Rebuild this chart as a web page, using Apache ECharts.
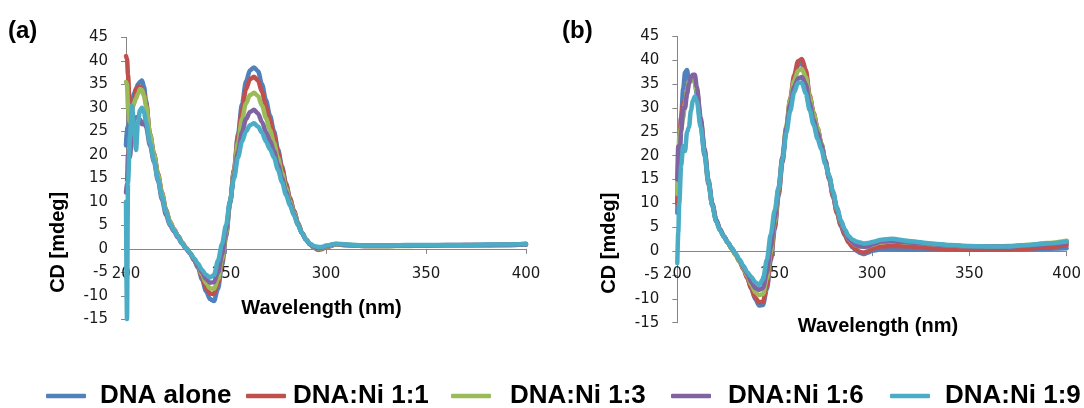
<!DOCTYPE html>
<html>
<head>
<meta charset="utf-8">
<script src="https://cdn.jsdelivr.net/npm/echarts@6/dist/echarts.min.js"></script>
<style>
  html, body { margin: 0; padding: 0; background: #ffffff; }
  #chart { width: 1084px; height: 408px; }
</style>
</head>
<body>
<div id="chart"></div>
<script>
// Wavelength grid shared by both CD spectra (nm)
const wavelengths = [
  200, 200.5, 201, 202, 203, 204, 205, 206, 207, 208, 209, 210,
  212, 214, 216, 218, 220, 222, 224, 226, 228, 230, 232, 234, 236, 238, 240,
  242, 244, 246, 248, 250, 252, 254, 256, 258, 260, 262, 264, 266, 268, 270,
  272, 274, 276, 278, 280, 282, 284, 286, 288, 290, 292, 294, 296, 298, 300,
  305, 310, 320, 330, 340, 350, 360, 370, 380, 390, 400
];

const seriesNames = ['DNA alone', 'DNA:Ni 1:1', 'DNA:Ni 1:3', 'DNA:Ni 1:6', 'DNA:Ni 1:9'];
const seriesColors = ['#4F81BD', '#C0504D', '#9BBB59', '#8064A2', '#4BACC6'];

// Panel (a) CD signal, mdeg
const a_dnaAlone = [
  22, 26, 24, 28, 31, 33, 34, 35, 35.5, 35.8, 34.5, 31.5,
  24, 20, 15.5, 11.5, 8, 5.5, 4, 2.7, 1.3, 0.2, -0.9, -2.4, -4, -6.5, -9,
  -10.7, -11.1, -8.5, -3.5, 2.5, 9.5, 16.8, 24.3, 30.8, 35.6, 38, 38.6, 37.8, 35, 31.6,
  28.3, 25, 21.2, 17.5, 13.9, 10.8, 8.1, 5.5, 3.4, 2, 0.9, 0.2, -0.2, -0.1, 0.4,
  0.9, 0.8, 0.6, 0.6, 0.7, 0.7, 0.7, 0.7, 0.8, 0.8, 0.9
];
const a_ni11 = [
  41, 40.5, 37, 28, 30, 31, 34, 34.5, 34.5, 34, 33, 31,
  24.5, 20.3, 16, 12, 8.3, 5.8, 4.2, 2.8, 1.4, 0.2, -0.9, -2.3, -3.8, -6, -8.3,
  -9.5, -9.6, -7.3, -2.8, 3, 9.8, 16.8, 23.8, 29.6, 34, 36.1, 36.6, 35.8, 33.4, 30.2,
  27.3, 24.2, 20.6, 17.1, 13.7, 10.6, 8, 5.5, 3.4, 2, 1, 0.3, -0.1, 0, 0.4,
  0.9, 0.8, 0.6, 0.6, 0.7, 0.7, 0.7, 0.8, 0.8, 0.9, 1.1
];
const a_ni13 = [
  35.5, 35, 30, 27, 29.5, 31, 32, 33, 34, 33.8, 32.5, 30.5,
  24.3, 20, 15.7, 11.7, 8.1, 5.7, 4.1, 2.7, 1.3, 0.2, -0.9, -2.2, -3.6, -5.5, -7.3,
  -8.4, -8.5, -6.5, -2.2, 3.3, 9.8, 16.4, 22.6, 27.6, 30.9, 32.7, 33.2, 32.5, 30.5, 27.8,
  25.2, 22.5, 19.3, 16.1, 12.9, 10.1, 7.7, 5.3, 3.3, 2, 1, 0.3, 0, 0.1, 0.5,
  0.9, 0.8, 0.6, 0.6, 0.6, 0.7, 0.7, 0.7, 0.7, 0.8, 0.9
];
const a_ni16 = [
  12, 14, 20, 19.5, 25, 27.5, 28, 28, 27.5, 26.5, 27, 26,
  22, 18.5, 14.5, 10.5, 7.2, 5, 3.7, 2.4, 1.1, 0, -1, -2.2, -3.5, -5, -6.4,
  -7.2, -7.1, -5, -1.2, 4, 10, 15.6, 20.6, 24.8, 27.6, 29.1, 29.6, 28.8, 27, 24.8,
  23, 20.8, 17.9, 15, 12.1, 9.6, 7.3, 5.1, 3.3, 1.9, 1, 0.4, 0.1, 0.2, 0.6,
  1, 0.8, 0.7, 0.7, 0.7, 0.7, 0.8, 0.8, 0.8, 0.8, 0.9
];
const a_ni19 = [
  10, -15, 14, 24, 30.5, 26, 21, 27, 29.5, 30, 29, 27,
  22.5, 18.8, 14.8, 11, 7.8, 5.3, 3.9, 2.6, 1.2, 0.1, -0.9, -2, -3.2, -4.5, -5.5,
  -6.1, -5.6, -2.5, 1, 5, 10.2, 15, 19.4, 22.8, 25, 26.3, 26.7, 26, 24.7, 22.8,
  21.2, 19.4, 16.8, 14.2, 11.5, 9.2, 7.1, 5, 3.3, 2, 1.1, 0.6, 0.4, 0.4, 0.7,
  1.1, 0.9, 0.7, 0.7, 0.8, 0.8, 0.8, 0.8, 0.9, 0.9, 1
];

// Panel (b) CD signal, mdeg
const b_dnaAlone = [
  8, 14, 20, 28, 34, 37.5, 38, 35.5, 36, 36.3, 35.5, 33,
  26.5, 20, 14, 9.5, 6.3, 4.4, 3, 1.8, 0.6, -0.7, -2.1, -3.7, -5.6, -7.9, -10,
  -11.4, -11.3, -8, -2, 4.5, 11.5, 18.5, 25.5, 31.5, 36.2, 39, 39.4, 37.2, 32.3, 28.8,
  25.7, 22.4, 18.8, 15.1, 11.4, 8, 5.3, 3.3, 1.8, 0.8, 0.1, -0.4, -0.6, -0.3, 0.1,
  0.4, 0.4, 0.3, 0.3, 0.3, 0.3, 0.3, 0.3, 0.4, 0.5, 0.6
];
const b_ni11 = [
  10, 16, 22, 28, 31, 31.5, 33.5, 35.5, 36.3, 36.5, 36, 34,
  27.5, 21, 14.5, 9.7, 6.4, 4.4, 3, 1.7, 0.5, -0.8, -2.2, -3.8, -5.7, -7.8, -9.7,
  -10.7, -10.6, -7.3, -1.5, 5, 12, 19, 26, 32, 36.8, 39.8, 40.3, 38, 32.7, 29,
  25.8, 22.5, 19, 15.3, 11.6, 8.1, 5.5, 3.5, 1.9, 0.9, 0.3, -0.2, -0.3, 0, 0.5,
  1, 1.1, 1, 0.6, 0.4, 0.3, 0.3, 0.4, 0.5, 0.8, 1.3
];
const b_ni13 = [
  12, 18, 24, 26, 28, 31, 33.5, 35.5, 36.2, 36, 35.2, 33.5,
  27.5, 21, 14.5, 9.6, 6.3, 4.4, 3, 1.7, 0.4, -0.9, -2.2, -3.6, -5.2, -7, -8.6,
  -9.2, -9, -5.8, -0.3, 6, 12.8, 19.8, 26.3, 31.8, 35.7, 37.8, 38.2, 36.5, 32.3, 28.8,
  25.8, 22.6, 19.1, 15.6, 12.1, 8.8, 6.1, 4.1, 2.6, 1.7, 1.2, 1, 0.9, 1, 1.3,
  1.9, 2, 1.8, 1.5, 1.2, 1, 1, 1.1, 1.3, 1.7, 2.2
];
const b_ni16 = [
  15, 22, 18, 25, 30, 30, 33, 35, 36.5, 37, 37, 34.5,
  28, 21.5, 15, 10, 6.6, 4.6, 3.1, 1.8, 0.6, -0.6, -1.9, -3.3, -4.8, -6.5, -7.7,
  -8.1, -7.7, -4.5, 0.8, 6.8, 13.3, 19.8, 25.8, 30.8, 34.4, 36.2, 36.5, 35, 31, 27.5,
  24.8, 22.2, 19, 15.6, 12.2, 9, 6.3, 4.2, 2.7, 1.8, 1.2, 1, 0.9, 1, 1.4,
  2, 2.1, 1.8, 1.5, 1.2, 1, 1, 1, 1.2, 1.5, 1.8
];
const b_ni19 = [
  -2.5, 4, 10, 18, 22, 21, 25, 26, 29.5, 31.5, 32.4, 31.5,
  26, 20.5, 14.7, 9.5, 6.2, 4.3, 3, 1.8, 0.6, -0.6, -1.8, -3.1, -4.4, -5.4, -6.5,
  -7.1, -5.9, -1.8, 3.5, 8.5, 13.3, 19.2, 24.8, 29.4, 33.3, 35.3, 35.3, 33, 29.6, 26.5,
  23.6, 21.3, 18.3, 15.8, 12.5, 9.1, 6.5, 4.6, 3.2, 2.4, 2, 1.8, 1.6, 1.7, 1.9,
  2.4, 2.6, 2.1, 1.6, 1.3, 1.1, 1, 1, 1.3, 1.6, 2
];

const panelA = [a_dnaAlone, a_ni11, a_ni13, a_ni16, a_ni19];
const panelB = [b_dnaAlone, b_ni11, b_ni13, b_ni16, b_ni19];

const xTicks = { min: 200, max: 400, interval: 50 };
const yTicks = { min: -15, max: 45, interval: 5 };

const axisGrey = '#868686';
const tickFont = 'DejaVu Sans';
const boldFont = 'Liberation Sans';

const grids = [
  { left: 126, top: 37.3, width: 400, height: 282 },
  { left: 677.3, top: 36.5, width: 390.7, height: 286.2 }
];

function pairs(values) {
  return wavelengths.map((w, i) => [w, values[i]]);
}

// Lift the wavelength axis from the grid bottom up to the CD = 0 line
function zeroLift(grid) {
  return -grid.height * (0 - yTicks.min) / (yTicks.max - yTicks.min);
}

function makeX(gridIndex, labelMargin, nameGap, namePad) {
  return {
    type: 'value', gridIndex: gridIndex, position: 'bottom',
    offset: zeroLift(grids[gridIndex]),
    min: xTicks.min, max: xTicks.max, interval: xTicks.interval,
    axisLine: { show: true, onZero: false, lineStyle: { color: axisGrey, width: 1 } },
    axisTick: { show: true, length: 5, inside: false, lineStyle: { color: axisGrey } },
    axisLabel: { margin: labelMargin, fontSize: 15, fontFamily: tickFont, color: '#1a1a1a',
                 showMinLabel: true, showMaxLabel: true },
    splitLine: { show: false },
    name: 'Wavelength (nm)', nameLocation: 'middle', nameGap: nameGap,
    nameTextStyle: { fontFamily: boldFont, fontWeight: 'bold', fontSize: 20, color: '#000',
                     lineHeight: 22, padding: namePad }
  };
}

function makeY(gridIndex, nameGap, namePad) {
  return {
    type: 'value', gridIndex: gridIndex,
    min: yTicks.min, max: yTicks.max, interval: yTicks.interval,
    axisLine: { show: true, lineStyle: { color: axisGrey, width: 1 } },
    axisTick: { show: true, length: 5, inside: false, lineStyle: { color: axisGrey } },
    axisLabel: { margin: 18, fontSize: 15, fontFamily: tickFont, color: '#1a1a1a' },
    splitLine: { show: false },
    name: 'CD [mdeg]', nameLocation: 'middle', nameRotate: 90, nameGap: nameGap,
    nameTextStyle: { fontFamily: boldFont, fontWeight: 'bold', fontSize: 20, color: '#000',
                     lineHeight: 22, padding: namePad }
  };
}

function makeSeries(panel, axisIndex) {
  return panel.map((values, i) => ({
    type: 'line', name: seriesNames[i],
    xAxisIndex: axisIndex, yAxisIndex: axisIndex,
    data: pairs(values),
    showSymbol: false, symbol: 'none',
    smooth: 0.3, smoothMonotone: 'x',
    color: seriesColors[i],
    lineStyle: { width: 4.5, color: seriesColors[i], cap: 'round', join: 'round' },
    z: 2 + i
  }));
}

// Legend entries laid out one by one along the bottom row
const legendLeft = [46, 246, 451, 671, 890];
const legendTextPad = [9, 2, 14, 12, 10];
const legends = seriesNames.map((n, i) => ({
  data: [n], left: legendLeft[i], top: 383, orient: 'horizontal',
  padding: 0, icon: 'roundRect', itemWidth: 40, itemHeight: 4.5,
  selectedMode: false,
  textStyle: { fontFamily: boldFont, fontWeight: 'bold', fontSize: 26, color: '#000',
               lineHeight: 26, padding: [0, 0, 0, legendTextPad[i]] }
}));

const chart = echarts.init(document.getElementById('chart'), null, { renderer: 'canvas' });
chart.setOption({
  animation: false,
  backgroundColor: '#ffffff',
  grid: grids,
  xAxis: [makeX(0, 18, 49, [0, 9, 0, 0]), makeX(1, 15, 64, [0, 0, 0, 12])],
  yAxis: [makeY(0, 57, [0, 128, 0, 0]), makeY(1, 57, [0, 127, 0, 0])],
  legend: legends,
  graphic: [
    { type: 'text', left: 8, top: 19, style: { text: '(a)', fontFamily: boldFont, fontWeight: 'bold', fontSize: 24, fill: '#000' } },
    { type: 'text', left: 562, top: 19, style: { text: '(b)', fontFamily: boldFont, fontWeight: 'bold', fontSize: 24, fill: '#000' } }
  ],
  series: makeSeries(panelA, 0).concat(makeSeries(panelB, 1))
});
</script>
</body>
</html>
